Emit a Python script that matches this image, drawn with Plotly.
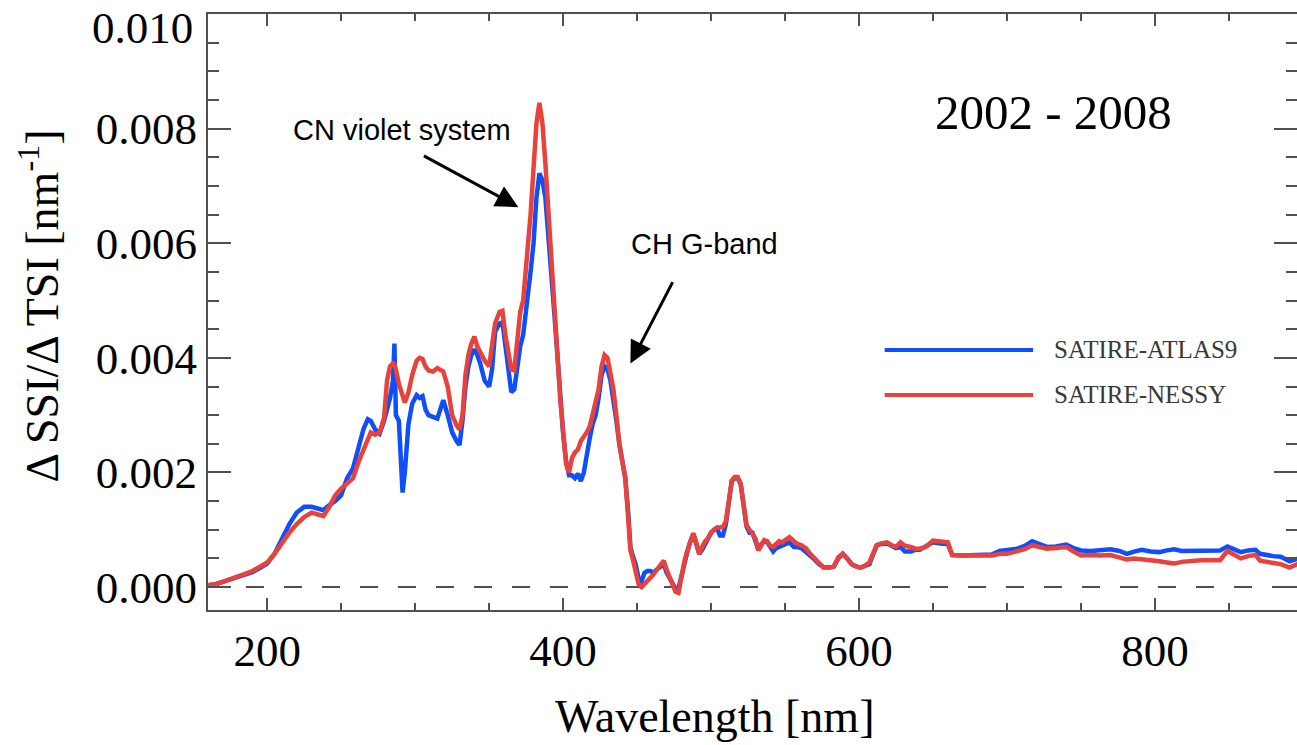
import plotly.graph_objects as go

# ---------------- data ----------------
wavelength = [
    160, 165, 170, 175, 180, 185, 190, 195, 200, 205, 210, 215, 220, 225, 230, 235, 238, 242, 246, 250,
    254, 258, 262, 265, 268, 270, 273, 276, 279, 281, 283, 285, 286, 287, 289, 291.5, 293, 295.5, 298, 301,
    303, 305, 307, 309, 312, 315, 317, 319, 322, 325, 328, 330, 332, 334, 336, 338, 340, 342, 344, 347,
    350, 352, 354, 357, 359, 361, 363, 365, 367, 369, 371, 373, 376, 378, 380, 382, 384, 386, 388, 390,
    392, 394, 396, 398, 400, 402, 404, 406, 408, 410, 412, 414, 416, 418, 420, 422, 424, 426, 428, 430,
    432, 434, 436, 438, 440, 442, 444, 445.5, 447, 449, 451, 453, 455, 457, 459, 461, 463, 465, 468, 470,
    472, 474, 476, 478, 480, 482, 484, 486, 488, 490, 492, 494, 496, 498, 500, 502, 504, 506, 508, 510,
    512, 514, 516, 518, 520, 522, 524, 526, 528, 530, 532, 534, 536, 538, 540, 542, 544, 546, 548, 550,
    553, 556, 558, 561, 564, 567, 570, 573, 576, 580, 583, 586, 589, 592, 595, 598, 601, 604, 607, 610,
    612, 615, 619, 622, 625, 628, 631, 635, 638, 641, 645, 650, 655, 660, 663, 670, 680, 690, 695, 700,
    707, 712, 717, 722, 727, 733, 740, 745, 750, 757, 763, 770, 776, 781, 786, 791, 797, 803, 808, 813,
    818, 825, 831, 838, 844, 849, 853, 858, 863, 868, 871, 876, 880, 885, 891, 896, 900,
]

satire_atlas9 = [
    .00003, .00005, .00009, .00013, .00017, .00021, .00026, .00033, .00041, .00058, .00085, .00110, .00130, .00140, .00140, .00135, .00134, .00143, .00150, .00160,
    .00190, .00207, .00250, .00275, .00293, .00290, .00275, .00268, .00290, .00310, .00330, .00360, .00425, .00300, .00290, .00165, .00200, .00285, .00320, .00335,
    .00330, .00333, .00310, .00300, .00296, .00294, .00310, .00326, .00300, .00270, .00255, .00248, .00290, .00350, .00385, .00405, .00415, .00405, .00390, .00360,
    .00350, .00380, .00445, .00460, .00462, .00420, .00370, .00340, .00345, .00390, .00420, .00440, .00500, .00550, .00600, .00680, .00722, .00710, .00680, .00620,
    .00550, .00480, .00410, .00330, .00268, .00220, .00195, .00195, .00190, .00198, .00185, .00200, .00235, .00260, .00285, .00300, .00330, .00370, .00385, .00380,
    .00360, .00330, .00290, .00250, .00220, .00190, .00130, .00070, .00055, .00040, .00015, .00010, .00025, .00028, .00028, .00025, .00030, .00035, .00040, .00025,
    .00015, .00005, -.00003, -.00002, .00020, .00045, .00062, .00080, .00092, .00075, .00058, .00065, .00075, .00085, .00095, .00100, .00103, .00090, .00090, .00110,
    .00145, .00185, .00190, .00190, .00180, .00140, .00105, .00095, .00095, .00080, .00065, .00075, .00080, .00078, .00068, .00062, .00068, .00070, .00072, .00075,
    .00078, .00070, .00070, .00068, .00062, .00055, .00048, .00040, .00035, .00034, .00036, .00050, .00058, .00050, .00040, .00036, .00034, .00037, .00040, .00060,
    .00073, .00075, .00076, .00072, .00068, .00070, .00062, .00062, .00065, .00065, .00070, .00078, .00076, .00075, .00056, .00055, .00056, .00057, .00063, .00064,
    .00067, .00072, .00080, .00075, .00070, .00071, .00074, .00068, .00064, .00063, .00065, .00066, .00063, .00058, .00062, .00065, .00062, .00061, .00064, .00066,
    .00063, .00063, .00064, .00063, .00064, .00071, .00066, .00061, .00064, .00065, .00058, .00055, .00054, .00053, .00045, .00049, .00050,
]

satire_nessy = [
    .00003, .00005, .00009, .00013, .00018, .00023, .00028, .00035, .00043, .00058, .00078, .00095, .00110, .00122, .00130, .00127, .00124, .00140, .00160, .00172,
    .00182, .00190, .00220, .00240, .00262, .00270, .00266, .00270, .00295, .00360, .00385, .00390, .00388, .00380, .00355, .00330, .00322, .00340, .00370, .00395,
    .00400, .00398, .00385, .00378, .00376, .00382, .00378, .00376, .00350, .00300, .00282, .00275, .00300, .00370, .00405, .00425, .00437, .00420, .00410, .00395,
    .00385, .00420, .00460, .00480, .00482, .00440, .00410, .00380, .00378, .00430, .00480, .00500, .00585, .00650, .00730, .00810, .00845, .00810, .00740, .00650,
    .00575, .00490, .00413, .00330, .00268, .00215, .00200, .00225, .00235, .00240, .00255, .00262, .00270, .00280, .00300, .00320, .00345, .00385, .00405, .00400,
    .00375, .00345, .00300, .00250, .00220, .00192, .00120, .00064, .00050, .00030, .00005, .00000, .00005, .00010, .00017, .00022, .00029, .00035, .00046, .00030,
    .00017, .00000, -.00008, -.00010, .00020, .00045, .00064, .00082, .00094, .00078, .00058, .00070, .00080, .00085, .00095, .00100, .00104, .00104, .00105, .00115,
    .00150, .00186, .00192, .00192, .00180, .00140, .00108, .00100, .00094, .00085, .00064, .00075, .00082, .00080, .00072, .00070, .00075, .00080, .00078, .00082,
    .00087, .00080, .00076, .00073, .00068, .00058, .00050, .00042, .00034, .00034, .00036, .00052, .00058, .00050, .00040, .00036, .00034, .00037, .00043, .00062,
    .00073, .00076, .00078, .00073, .00070, .00078, .00072, .00070, .00067, .00067, .00070, .00081, .00080, .00078, .00056, .00055, .00055, .00055, .00058, .00058,
    .00062, .00066, .00073, .00069, .00067, .00068, .00070, .00062, .00055, .00056, .00055, .00056, .00052, .00048, .00050, .00049, .00048, .00045, .00043, .00041,
    .00044, .00046, .00047, .00047, .00047, .00063, .00058, .00050, .00054, .00056, .00046, .00043, .00042, .00040, .00034, .00040, .00041,
]

series_names = ["SATIRE-ATLAS9", "SATIRE-NESSY"]
y_tick_values = [0.000, 0.002, 0.004, 0.006, 0.008, 0.010]
y_tick_labels = ["0.000", "0.002", "0.004", "0.006", "0.008", ""]
x_tick_values = [200, 400, 600, 800]
period_label = "2002 - 2008"

# ---------------- styling ----------------
BLUE = "#0F4EFB"
RED = "#E8423B"
AXIS = "#505050"
SERIF = "Liberation Serif, Times New Roman, serif"
SANS = "Liberation Sans, Arial, Helvetica, sans-serif"

W, H = 1297, 745
L, T, B, R = 207.5, 14, 135, 0
PW = W - L - R
PH = H - T - B
X_RANGE = [160, 896]
Y_RANGE = [-0.0004, 0.010]


def px_x(p):  # pixel -> paper x
    return (p - L) / PW


def px_y(p):  # pixel -> paper y
    return (H - B - p) / PH


fig = go.Figure()
fig.add_trace(go.Scatter(x=wavelength, y=satire_atlas9, mode="lines", name=series_names[0],
                         line=dict(color=BLUE, width=4.5), showlegend=False))
# second series on the twin (right-hand, identical range) y axis so its ticks are drawn
fig.add_trace(go.Scatter(x=wavelength, y=satire_nessy, mode="lines", name=series_names[1],
                         line=dict(color=RED, width=4.5), showlegend=False, yaxis="y2"))

# zero reference line
fig.add_shape(type="line", xref="paper", x0=0, x1=1, yref="y", y0=0, y1=0,
              line=dict(color=AXIS, width=2, dash="18px,20px"), layer="below")

# legend drawn by hand (long line samples as in the reference)
for name, col, ypix in [(series_names[0], BLUE, 350), (series_names[1], RED, 395)]:
    fig.add_shape(type="line", xref="paper", yref="paper", x0=px_x(884.5), x1=px_x(1033),
                  y0=px_y(ypix), y1=px_y(ypix), line=dict(color=col, width=4))
    fig.add_annotation(xref="paper", yref="paper", x=px_x(1052), y=px_y(ypix - 1), text=name,
                       showarrow=False, xanchor="left", yanchor="middle",
                       font=dict(family=SERIF, size=25, color="#383838"))

# period label
fig.add_annotation(xref="paper", yref="paper", x=px_x(1053), y=px_y(112), text=period_label,
                   showarrow=False, xanchor="center", yanchor="middle",
                   font=dict(family=SERIF, size=49, color="black"))

# feature labels and arrows
fig.add_annotation(xref="paper", yref="paper", x=px_x(402), y=px_y(130), text="CN violet system",
                   showarrow=False, xanchor="center", yanchor="middle",
                   font=dict(family=SANS, size=29, color="black"))
fig.add_annotation(xref="paper", yref="paper", x=px_x(704), y=px_y(244), text="CH G-band",
                   showarrow=False, xanchor="center", yanchor="middle",
                   font=dict(family=SANS, size=29, color="black"))
fig.add_annotation(x=369.8, y=0.00663, xref="x", yref="y", text="", showarrow=True,
                   ax=-96, ay=-52, arrowhead=2, arrowsize=1.5, arrowwidth=3, arrowcolor="black")
fig.add_annotation(x=445.5, y=0.00390, xref="x", yref="y", text="", showarrow=True,
                   ax=43, ay=-83, arrowhead=2, arrowsize=1.5, arrowwidth=3, arrowcolor="black")

# top-left tick label (shifted down as in the reference)
fig.add_annotation(xref="paper", yref="paper", x=0, y=px_y(28), xshift=-13, text="0.010",
                   showarrow=False, xanchor="right", yanchor="middle",
                   font=dict(family=SERIF, size=45, color="black"))

# axis titles
fig.add_annotation(xref="paper", yref="paper", x=px_x(714), y=px_y(716), text="Wavelength [nm]",
                   showarrow=False, xanchor="center", yanchor="middle",
                   font=dict(family=SERIF, size=46, color="black"))
fig.add_annotation(xref="paper", yref="paper", x=px_x(38), y=px_y(306),
                   text="\u0394 SSI/\u0394 TSI [nm<sup>-1</sup>]", textangle=-90,
                   showarrow=False, xanchor="center", yanchor="middle",
                   font=dict(family=SERIF, size=46, color="black"))

fig.update_layout(
    width=W, height=H,
    margin=dict(l=L, r=R, t=T, b=B, pad=0),
    paper_bgcolor="white", plot_bgcolor="white",
    showlegend=False,
    xaxis=dict(range=X_RANGE, tickvals=x_tick_values, ticks="inside", ticklen=12, tickwidth=2,
               tickcolor=AXIS, showline=True, linecolor=AXIS, linewidth=2, mirror="ticks",
               showgrid=False, zeroline=False,
               minor=dict(dtick=50, ticks="inside", ticklen=7, tickwidth=2, tickcolor=AXIS, showgrid=False),
               tickfont=dict(family=SERIF, size=45, color="black")),
    yaxis=dict(range=Y_RANGE, tickvals=y_tick_values, ticktext=y_tick_labels, ticks="inside",
               ticklen=23, tickwidth=2, tickcolor=AXIS, showline=True, linecolor=AXIS, linewidth=2,
               mirror=False, showgrid=False, zeroline=False,
               minor=dict(dtick=0.0005, tick0=0, ticks="inside", ticklen=11, tickwidth=2,
                          tickcolor=AXIS, showgrid=False),
               tickfont=dict(family=SERIF, size=45, color="black")),
    yaxis2=dict(range=Y_RANGE, overlaying="y", side="right", anchor="x", tickvals=y_tick_values,
                showticklabels=False, ticks="inside", ticklen=23, tickwidth=2, tickcolor=AXIS,
                showline=False, showgrid=False, zeroline=False,
                minor=dict(dtick=0.0005, tick0=0, ticks="inside", ticklen=11, tickwidth=2,
                           tickcolor=AXIS, showgrid=False)),
)

fig.write_html("out.html")
